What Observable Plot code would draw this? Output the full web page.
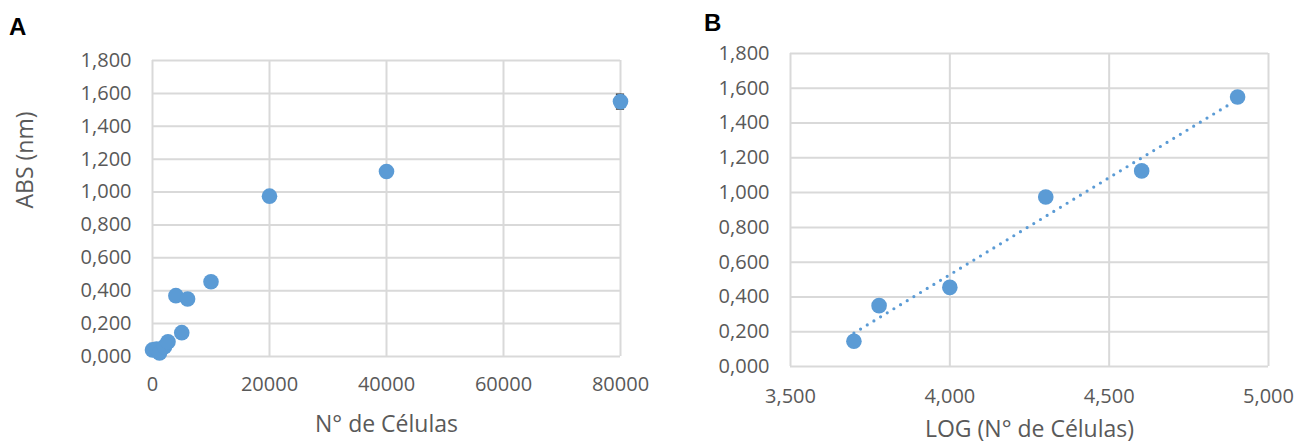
<!DOCTYPE html>
<html>
<head>
<meta charset="utf-8">
<script src="https://cdn.jsdelivr.net/npm/d3@7"></script>
<script src="https://cdn.jsdelivr.net/npm/@observablehq/plot@0.6"></script>
<style>
  html, body { margin: 0; padding: 0; background: #fff; }
  #wrap { position: relative; width: 1297px; height: 445px; overflow: hidden; }
  .panel { position: absolute; top: 0; }
  .tag { position: absolute; font-family: "Liberation Sans", Arial, sans-serif; font-weight: bold; font-size: 24px; color: #000; line-height: 1; }
</style>
</head>
<body>
<div id="wrap">
  <div id="pa" class="panel" style="left:0px"></div>
  <div id="pb" class="panel" style="left:650px"></div>
  <div class="tag" style="left:9px; top:15px">A</div>
  <div class="tag" style="left:704px; top:11px">B</div>
</div>
<script>
// ---- Panel A data ----
const cellsA = [0, 700, 1200, 2050, 2650, 4000, 5000, 6000, 10000, 20000, 40000, 80000];
const absA   = [0.040, 0.045, 0.022, 0.060, 0.090, 0.370, 0.145, 0.350, 0.455, 0.975, 1.125, 1.550];
const errA   = [0, 0, 0, 0, 0, 0, 0, 0, 0, 0.030, 0.010, 0.045];
const capHalfA = 700; // half-width of error-bar caps, in cells
const xTicksA = [0, 20000, 40000, 60000, 80000];
const yTicks  = [0, 0.2, 0.4, 0.6, 0.8, 1.0, 1.2, 1.4, 1.6, 1.8];

// ---- Panel B data ----
const logB = [3.699, 3.778, 4.000, 4.301, 4.602, 4.903];
const absB = [0.145, 0.350, 0.455, 0.975, 1.125, 1.550];
const xTicksB = [3.5, 4.0, 4.5, 5.0];

const blue = "#5b9bd5";
const grid = "#d9d9d9";
const txt = "#595959";
const errColor = "#404040";
const fmt3 = v => d3.format(".3f")(v).replace(".", ",");

const dataA = cellsA.map((c, i) => ({x: c, y: absA[i], e: errA[i]}));
const errData = dataA.filter(d => d.e > 0);
const dataB = logB.map((l, i) => ({x: l, y: absB[i]}));

const baseStyle = {fontSize: "20px", fontFamily: "'Open Sans', sans-serif", color: txt, background: "white", overflow: "visible"};

const plotA = Plot.plot({
  width: 650, height: 445,
  marginLeft: 152, marginRight: 30, marginTop: 60, marginBottom: 89,
  style: baseStyle,
  x: {type: "linear", domain: [0, 80000], ticks: xTicksA, tickFormat: d => String(d), tickSize: 0, tickPadding: 20, label: null},
  y: {type: "linear", domain: [0, 1.8], ticks: yTicks, tickFormat: fmt3, tickSize: 0, tickPadding: 21, label: null},
  marks: [
    Plot.ruleY(yTicks, {stroke: grid, strokeWidth: 2}),
    Plot.ruleX(xTicksA, {stroke: grid, strokeWidth: 2}),
    Plot.ruleX(errData, {x: "x", y1: d => d.y - d.e, y2: d => d.y + d.e, stroke: errColor, strokeWidth: 1.5}),
    Plot.ruleY(errData, {y: d => d.y - d.e, x1: d => d.x - capHalfA, x2: d => d.x + capHalfA, stroke: errColor, strokeWidth: 1.5}),
    Plot.ruleY(errData, {y: d => d.y + d.e, x1: d => d.x - capHalfA, x2: d => d.x + capHalfA, stroke: errColor, strokeWidth: 1.5}),
    Plot.dot(dataA, {x: "x", y: "y", r: 7.8, fill: blue, stroke: "none"}),
    Plot.text(["N° de Células"], {frameAnchor: "bottom", dy: 75, fill: txt, fontSize: 23}),
    Plot.text(["ABS (nm)"], {frameAnchor: "left", dx: -127, rotate: -90, fill: txt, fontSize: 23})
  ]
});
document.getElementById("pa").appendChild(plotA);

const plotB = Plot.plot({
  width: 647, height: 445,
  marginLeft: 140, marginRight: 29, marginTop: 53, marginBottom: 79,
  style: baseStyle,
  x: {type: "linear", domain: [3.5, 5.0], ticks: xTicksB, tickFormat: fmt3, tickSize: 0, tickPadding: 22, label: null},
  y: {type: "linear", domain: [0, 1.8], ticks: yTicks, tickFormat: fmt3, tickSize: 0, tickPadding: 21, label: null},
  marks: [
    Plot.ruleY(yTicks, {stroke: grid, strokeWidth: 2}),
    Plot.ruleX(xTicksB, {stroke: grid, strokeWidth: 2}),
    Plot.linearRegressionY(dataB, {x: "x", y: "y", ci: 0, stroke: blue, strokeWidth: 3.2, strokeDasharray: "0,7.8", strokeLinecap: "round"}),
    Plot.dot(dataB, {x: "x", y: "y", r: 7.8, fill: blue, stroke: "none"}),
    Plot.text(["LOG (N° de Células)"], {frameAnchor: "bottom", dy: 70, fill: txt, fontSize: 23})
  ]
});
document.getElementById("pb").appendChild(plotB);
</script>
</body>
</html>
